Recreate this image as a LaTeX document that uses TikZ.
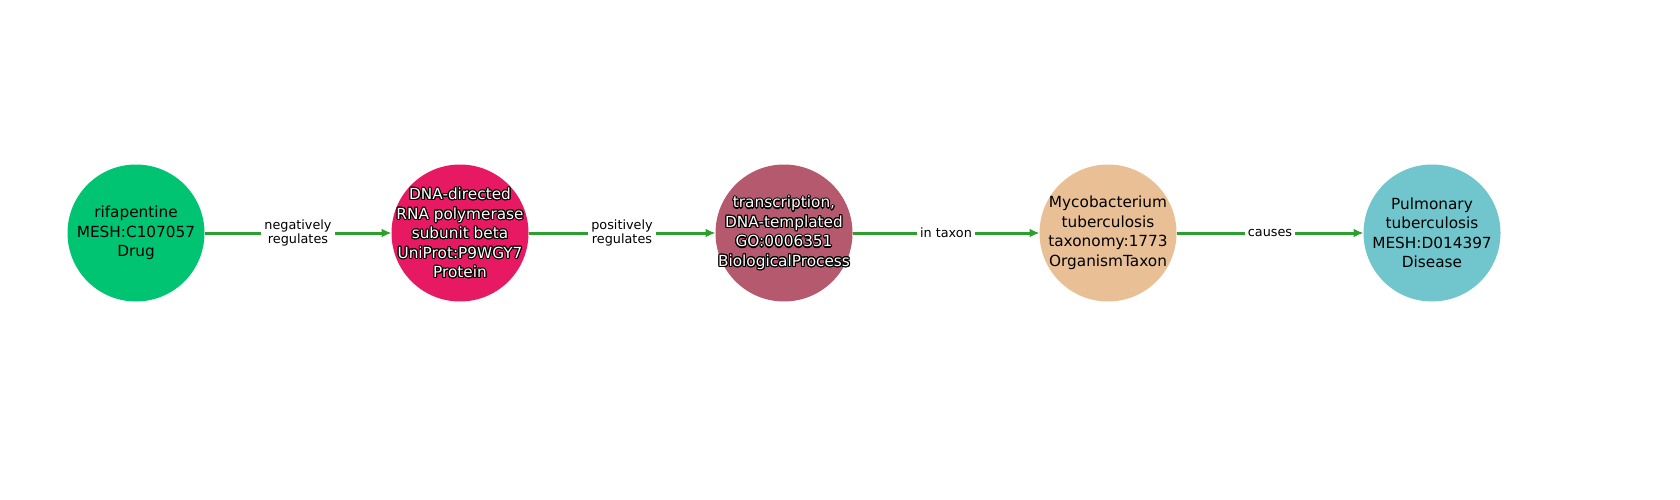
\documentclass[tikz,border=0pt]{standalone}
\usepackage{fontspec}
\setmainfont{DejaVu Sans}
\usetikzlibrary{arrows.meta}
\definecolor{cDrug}{RGB}{0,196,114}
\definecolor{cProt}{RGB}{232,25,99}
\definecolor{cBio}{RGB}{181,89,110}
\definecolor{cTax}{RGB}{233,192,150}
\definecolor{cDis}{RGB}{112,198,204}
\definecolor{edgegreen}{RGB}{44,160,44}
\newcommand{\wt}[1]{\leavevmode\foreach \a in {0,30,...,330}{\pgfmathsetlengthmacro\dx{1.1pt*cos(\a)}\pgfmathsetlengthmacro\dy{1.1pt*sin(\a)}\rlap{\hspace*{\dx}\raisebox{\dy}{\textcolor{black}{#1}}}}#1}
\begin{document}
\begin{tikzpicture}[x=1pt,y=1pt,
  ent/.style={circle, minimum size=137pt, inner sep=-20pt, outer sep=0pt, align=center,
    font=\fontsize{15.3}{19.5}\selectfont},
  dark/.style={ent, text=white},
  lbl/.style={fill=white, inner sep=3pt, align=center,
    font=\fontsize{12.8}{14}\selectfont, text=black},
  rel/.style={draw=edgegreen, line width=3pt, -{Latex[length=10pt,width=9pt]}}]
\useasboundingbox (0,0) rectangle (1680,-500);
\node[ent, fill=cDrug] (n1) at (136,-233) {rifapentine\\MESH:C107057\\Drug};
\node[dark, fill=cProt] (n2) at (460,-233) {\wt{DNA-directed}\\\wt{RNA polymerase}\\\wt{subunit beta}\\\wt{UniProt:P9WGY7}\\\wt{Protein}};
\node[dark, fill=cBio] (n3) at (784,-233) {\wt{transcription,}\\\wt{DNA-templated}\\\wt{GO:0006351}\\\wt{BiologicalProcess}};
\node[ent, fill=cTax] (n4) at (1108,-233) {Mycobacterium\\tuberculosis\\taxonomy:1773\\OrganismTaxon};
\node[ent, fill=cDis] (n5) at (1432,-233) {Pulmonary\\tuberculosis\\MESH:D014397\\Disease};
\draw[rel] (n1) -- node[lbl] (l1) {negatively\\regulates} (n2);
\draw[rel] (n2) -- node[lbl] (l2) {positively\\regulates} (n3);
\draw[rel] (n3) -- node[lbl] (l3) {in taxon} (n4);
\draw[rel] (n4) -- node[lbl] (l4) {causes} (n5);
\end{tikzpicture}
\end{document}
